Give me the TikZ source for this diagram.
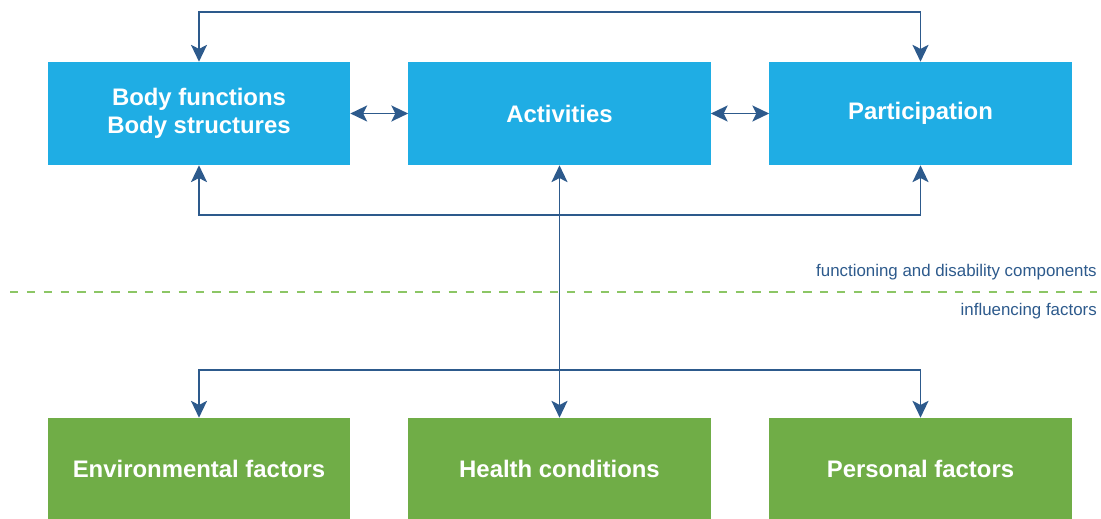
\documentclass[tikz,border=0pt]{standalone}
\usepackage{fontspec}
\setmainfont{Liberation Sans}
\usetikzlibrary{arrows.meta, positioning}
\definecolor{icfblue}{HTML}{1FADE4}
\definecolor{icfgreen}{HTML}{70AD47}
\definecolor{icfline}{HTML}{2D5A8C}
\definecolor{icfdash}{HTML}{8CC665}
\tikzset{
  bluebox/.style={fill=icfblue, text=white, minimum width=7.55cm,
                  minimum height=2.575cm, inner sep=0pt, align=center,
                  font=\fontsize{17}{19.5}\selectfont\bfseries},
  greenbox/.style={fill=icfgreen, text=white, minimum width=7.55cm,
                   minimum height=2.525cm, inner sep=0pt, align=center,
                   font=\fontsize{17}{19.5}\selectfont\bfseries},
  link/.style={{Stealth[length=4.2mm,width=4mm,inset=1mm]}-{Stealth[length=4.2mm,width=4mm,inset=1mm]},
               line width=1.2pt, icfline},
  sepline/.style={dashed, dash pattern=on 6pt off 6pt, line width=0.9pt, icfdash},
  sidelabel/.style={text=icfline, font=\fontsize{12}{14}\selectfont, anchor=east, inner sep=0pt},
}

\begin{document}
\begin{tikzpicture}[x=0.025cm, y=-0.025cm]
  \useasboundingbox (0,0) rectangle (1101,519);

  % functioning and disability components
  \node[bluebox] (body) at (199,113.5) {Body functions\\Body structures};
  \node[bluebox] (act)  at (559.5,113.5) {Activities};
  \node[bluebox] (part) at (920.5,113.5) {Participation};

  % influencing factors
  \node[greenbox] (env)    at (199,468.5) {Environmental factors};
  \node[greenbox] (health) at (559.5,468.5) {Health conditions};
  \node[greenbox] (pers)   at (920.5,468.5) {Personal factors};

  % routing points
  \coordinate (toprun) at (559.5,12);
  \coordinate (midrun) at (559.5,215);
  \coordinate (lowrun) at (559.5,370);

  % connectors
  \draw[link] (body.north) |- (toprun) -| (part.north);
  \draw[link] (body.south) |- (midrun) -| (part.south);
  \draw[link] (body.east) -- (act.west);
  \draw[link] (act.east) -- (part.west);
  \draw[link] (act.south) -- (health.north);
  \draw[link] (env.north) |- (lowrun) -| (pers.north);

  % divider
  \coordinate (dashl) at (10,292);
  \coordinate (dashr) at (1097,292);
  \draw[sepline] (dashl) -- (dashr);
  \node[sidelabel] (upperlbl) at (1097,272) {functioning and disability components};
  \node[sidelabel] (lowerlbl) at (1097,311) {influencing factors};
\end{tikzpicture}
\end{document}
